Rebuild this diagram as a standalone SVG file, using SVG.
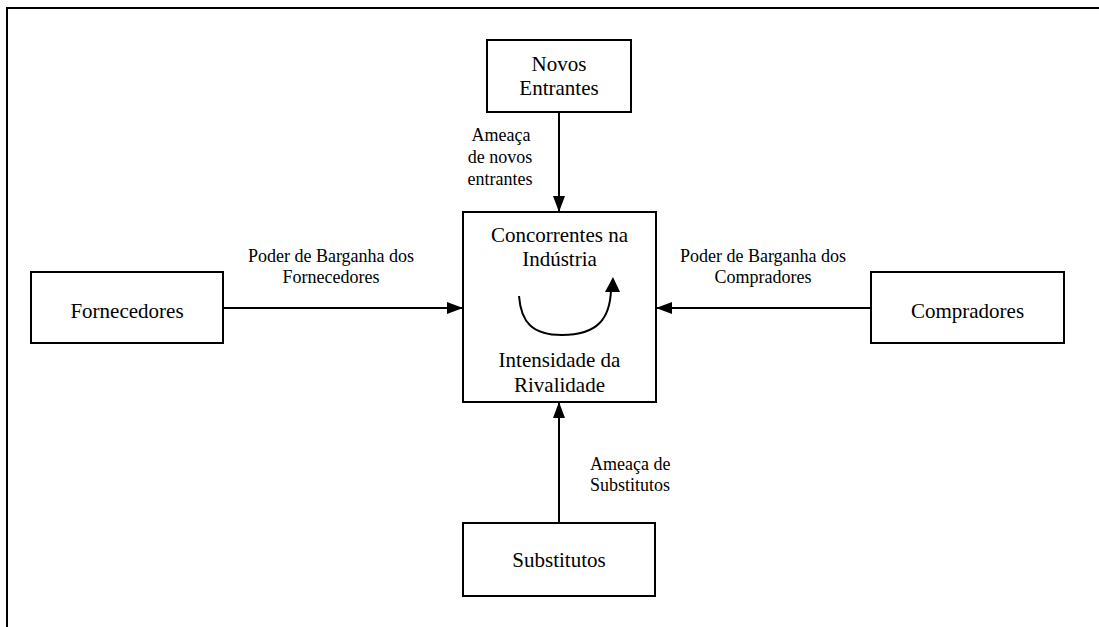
<svg xmlns="http://www.w3.org/2000/svg" width="1099" height="627" viewBox="0 0 1099 627">
<style>
.box{fill:#fff;stroke:#000;stroke-width:2}
.t{font-family:"Liberation Serif","Times New Roman",serif;font-size:21px;fill:#000;text-anchor:middle}
.l{font-family:"Liberation Serif","Times New Roman",serif;font-size:18px;fill:#000;text-anchor:middle}
.c{stroke:#000;stroke-width:2;fill:none}
</style>
<defs>
<marker id="ah" viewBox="0 0 16 12" refX="16" refY="6" markerWidth="16" markerHeight="12" markerUnits="userSpaceOnUse" orient="auto">
<path d="M0,0 L16,6 L0,12 Z" fill="#000"/>
</marker>
</defs>
<rect width="1099" height="627" fill="#fff"/>
<path d="M7,627 V8 H1099" fill="none" stroke="#000" stroke-width="2"/>
<g id="novos">
<rect class="box" x="487" y="40" width="144" height="72"/>
<text class="t" x="559" y="71">Novos</text>
<text class="t" x="559" y="95">Entrantes</text>
</g>
<g id="fornecedores">
<rect class="box" x="31" y="272" width="192" height="71"/>
<text class="t" x="127" y="318">Fornecedores</text>
</g>
<g id="compradores">
<rect class="box" x="871" y="272" width="193" height="71"/>
<text class="t" x="967.5" y="318">Compradores</text>
</g>
<g id="concorrentes">
<rect class="box" x="463" y="212" width="193" height="190"/>
<text class="t" x="559.5" y="242">Concorrentes na</text>
<text class="t" x="559.5" y="266">Indústria</text>
<text class="t" x="559.5" y="367">Intensidade da</text>
<text class="t" x="559.5" y="392">Rivalidade</text>
</g>
<g id="substitutos">
<rect class="box" x="463" y="523" width="192" height="73"/>
<text class="t" x="559" y="567">Substitutos</text>
</g>
<g id="connectors">
<line class="c" x1="559" y1="112" x2="559" y2="212" marker-end="url(#ah)"/>
<line class="c" x1="223" y1="308" x2="463" y2="308" marker-end="url(#ah)"/>
<line class="c" x1="871" y1="308" x2="656" y2="308" marker-end="url(#ah)"/>
<line class="c" x1="559" y1="523" x2="559" y2="402" marker-end="url(#ah)"/>
<path class="c" d="M519,296 C521,322 532,335 562,335 C598,335 610,318 611,290"/>
<path d="M613,277 L605,292 L620,292 Z" fill="#000"/>
<text class="l" x="501" y="141">Ameaça</text>
<text class="l" x="500" y="163">de novos</text>
<text class="l" x="500" y="185">entrantes</text>
<text class="l" x="331" y="262">Poder de Barganha dos</text>
<text class="l" x="331" y="283">Fornecedores</text>
<text class="l" x="763" y="262">Poder de Barganha dos</text>
<text class="l" x="763" y="283">Compradores</text>
<text class="l" x="590" y="470" style="text-anchor:start">Ameaça de</text>
<text class="l" x="590" y="491" style="text-anchor:start">Substitutos</text>
</g>
</svg>
